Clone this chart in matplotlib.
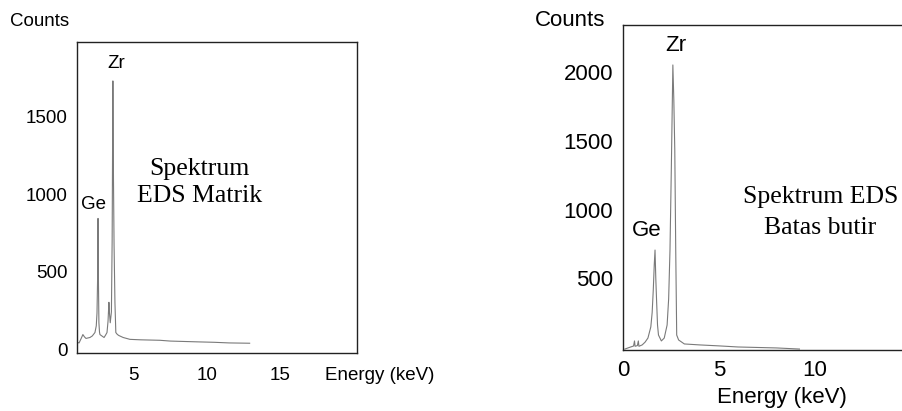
import matplotlib.pyplot as plt

# EDS spectrum of the matrix (energy in keV, counts)
matrix_energy = [1.16, 1.3, 1.45, 1.56, 1.66, 1.77, 1.9, 2.04, 2.2, 2.38, 2.47, 2.52, 2.56,
                 2.59, 2.62, 2.65, 2.69, 2.72, 2.85, 3.0, 3.1, 3.2, 3.27, 3.33, 3.37, 3.42,
                 3.5, 3.55, 3.6, 3.64, 3.68, 3.74, 3.8, 3.9, 4.0, 4.3, 4.76, 5.5, 6.8, 7.5,
                 8.2, 9.3, 10.5, 11.5, 12.9]
matrix_counts = [44, 40, 70, 94, 80, 69, 72, 75, 85, 107, 150, 233, 450,
                 843, 420, 170, 110, 94, 85, 75, 90, 107, 180, 302, 230, 170,
                 240, 700, 1730, 1100, 673, 300, 107, 95, 88, 75, 63, 60, 57, 52,
                 50, 47, 44, 40, 38]

# EDS spectrum of the grain boundary
boundary_energy = [0.1, 0.4, 0.55, 0.6, 0.63, 0.75, 0.8, 0.83, 1.0, 1.15, 1.3, 1.45, 1.52,
                   1.58, 1.63, 1.67, 1.71, 1.75, 1.8, 1.85, 2.0, 2.15, 2.3, 2.38, 2.45,
                   2.52, 2.6, 2.65, 2.7, 2.75, 2.8, 2.9, 3.2, 4.0, 5.0, 6.0, 8.0, 9.2]
boundary_counts = [-15, 0, 7, 44, 5, 10, 44, 5, 15, 35, 65, 146, 250,
                   420, 600, 706, 500, 342, 160, 87, 44, 65, 160, 350, 706,
                   1300, 2054, 1800, 1435, 700, 87, 51, 22, 15, 8, 0, -7, -15]

line_color = '#7a7a7a'
tick_font = 'Liberation Sans'
note_font = 'Liberation Serif'

fig = plt.figure(figsize=(9.03, 4.11), dpi=100)

# Left panel: matrix
ax1 = fig.add_axes([77 / 903, 58 / 411, 280 / 903, 311 / 411])
ax1.plot(matrix_energy, matrix_counts, color=line_color, lw=0.8)
ax1.set_xlim(1.16, 20.2)
ax1.set_ylim(-25, 1981)
ax1.set_xticks([5, 10, 15])
ax1.set_yticks([0, 500, 1000, 1500])
ax1.tick_params(length=0, labelsize=13.5)
ax1.tick_params(axis='x', pad=10)
ax1.tick_params(axis='y', pad=7)
for lbl in ax1.get_xticklabels() + ax1.get_yticklabels():
    lbl.set_fontfamily(tick_font)
for sp in ax1.spines.values():
    sp.set_linewidth(1.0)
    sp.set_color('#222222')

ax1.text(2.3, 930, 'Ge', fontsize=13.5, family=tick_font, ha='center', va='center')
ax1.text(3.8, 1845, 'Zr', fontsize=13.5, family=tick_font, ha='center', va='center')
ax1.text(9.5, 1075, 'Spektrum\nEDS Matrik', fontsize=18.5, family=note_font,
         ha='center', va='center', linespacing=1.3)

fig.text(10 / 903, 1 - 22 / 411, 'Counts', fontsize=13.5, family=tick_font,
         ha='left', va='center')
fig.text(325 / 903, 1 - 375 / 411, 'Energy (keV)', fontsize=13.5, family=tick_font,
         ha='left', va='center')

# Right panel: grain boundary (clipped at the right edge)
ax2 = fig.add_axes([623 / 903, 61 / 411, 280 / 903, 325 / 411])
ax2.plot(boundary_energy, boundary_counts, color=line_color, lw=0.8)
ax2.set_xlim(0, 14.6)
ax2.set_ylim(-22, 2345)
ax2.set_xticks([0, 5, 10])
ax2.set_yticks([500, 1000, 1500, 2000])
ax2.tick_params(length=0, labelsize=16)
ax2.tick_params(axis='x', pad=7)
ax2.tick_params(axis='y', pad=7)
for lbl in ax2.get_xticklabels() + ax2.get_yticklabels():
    lbl.set_fontfamily(tick_font)
ax2.spines['right'].set_visible(False)
for sp in ax2.spines.values():
    sp.set_linewidth(1.0)
    sp.set_color('#222222')

ax2.text(1.25, 850, 'Ge', fontsize=16, family=tick_font, ha='center', va='center')
ax2.text(2.75, 2195, 'Zr', fontsize=16, family=tick_font, ha='center', va='center')
ax2.text(10.3, 980, 'Spektrum EDS\nBatas butir', fontsize=18.5, family=note_font,
         ha='center', va='center', linespacing=1.5)

fig.text(535 / 903, 1 - 20 / 411, 'Counts', fontsize=16, family=tick_font,
         ha='left', va='center')
fig.text(782 / 903, 1 - 397 / 411, 'Energy (keV)', fontsize=16, family=tick_font,
         ha='center', va='center')

fig.savefig('out.png', dpi=100)
